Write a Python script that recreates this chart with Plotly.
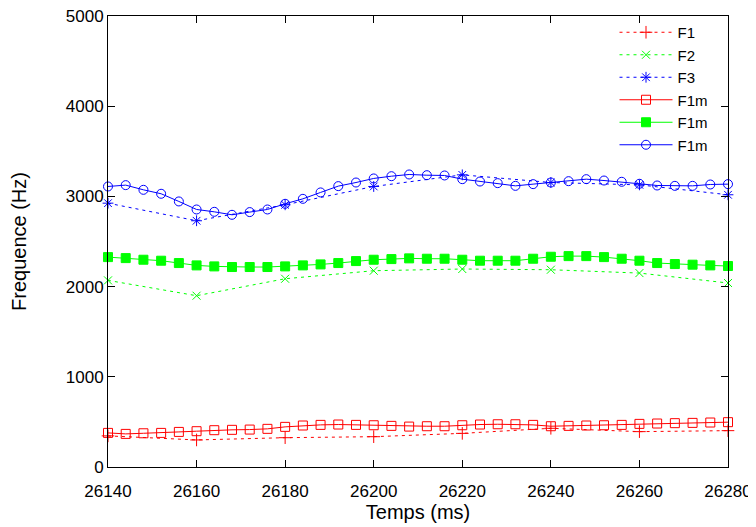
import plotly.graph_objects as go

# formant estimates every 20 ms (dotted series)
t_coarse = [26140, 26160, 26180, 26200, 26220, 26240, 26260, 26280]
f1 = [345, 300, 325, 336, 373, 429, 392, 403]
f2 = [2069, 1899, 2087, 2176, 2195, 2187, 2150, 2040]
f3 = [2925, 2730, 2907, 3110, 3239, 3154, 3128, 3018]

# smoothed tracks every 4 ms (solid series)
t_fine = list(range(26140, 26284, 4))
f1m_red = [378, 367, 374, 378, 389, 397, 408, 412, 415, 423, 445, 460, 467, 471, 467, 463,
           456, 448, 452, 452, 463, 471, 474, 474, 467, 452, 456, 460, 463, 467, 478, 482,
           486, 489, 493, 497]
f1m_green = [2327, 2316, 2298, 2287, 2261, 2235, 2224, 2217, 2217, 2217, 2224, 2235, 2246,
             2261, 2283, 2298, 2305, 2313, 2309, 2309, 2298, 2287, 2287, 2287, 2309, 2331,
             2338, 2338, 2327, 2309, 2287, 2261, 2250, 2243, 2235, 2228]
f1m_blue = [3110, 3125, 3073, 3029, 2944, 2855, 2829, 2796, 2826, 2855, 2918, 2973, 3044,
            3114, 3154, 3199, 3224, 3243, 3235, 3232, 3191, 3165, 3147, 3117, 3136, 3154,
            3169, 3191, 3176, 3162, 3140, 3121, 3117, 3117, 3132, 3136]

RED = "#ff0000"
GREEN = "#00ff00"
BLUE = "#0000ff"
FONT = "Liberation Sans, Arial, sans-serif"

fig = go.Figure()

dotted = [
    ("F1", f1, RED, "cross-thin-open", 9),
    ("F2", f2, GREEN, "x-thin-open", 8),
    ("F3", f3, BLUE, "asterisk-open", 9),
]
for name, vals, color, symbol, size in dotted:
    fig.add_trace(go.Scatter(
        x=t_coarse, y=vals, name=name, mode="lines+markers",
        line=dict(color=color, width=1, dash="3px,4px"),
        marker=dict(symbol=symbol, size=size, color=color, line=dict(color=color, width=1)),
        cliponaxis=False,
    ))

solid = [
    (f1m_red, RED, "square-open", 9),
    (f1m_green, GREEN, "square", 9),
    (f1m_blue, BLUE, "circle-open", 9),
]
for vals, color, symbol, size in solid:
    fig.add_trace(go.Scatter(
        x=t_fine, y=vals, name="F1m", mode="lines+markers",
        line=dict(color=color, width=1),
        marker=dict(symbol=symbol, size=size, color=color, line=dict(color=color, width=1)),
        cliponaxis=False,
    ))

axis_style = dict(
    showline=True, linecolor="black", linewidth=1, mirror="allticks",
    ticks="inside", ticklen=7, tickcolor="black", showgrid=False, zeroline=False,
    tickformat="d", ticklabeloverflow="allow",
    tickfont=dict(family=FONT, size=17, color="black"),
)

# page body adds an 8px offset, so margins are shifted to land the frame in place
fig.update_layout(
    width=756, height=527,
    margin=dict(l=100, r=36, t=8, b=68, autoexpand=False),
    paper_bgcolor="white", plot_bgcolor="white",
    font=dict(family=FONT, size=17, color="black"),
    xaxis=dict(range=[26140, 26280], dtick=20, tick0=26140, ticklabelstandoff=9,
               title=dict(text="Temps (ms)", standoff=3), **axis_style),
    yaxis=dict(range=[0, 5000], dtick=1000,
               title=dict(text="Frequence (Hz)", standoff=36), **axis_style),
    legend=dict(x=0.975, y=1.0, xanchor="right", yanchor="top",
                bgcolor="rgba(0,0,0,0)", itemwidth=53,
                font=dict(family=FONT, size=15), tracegroupgap=0),
    showlegend=True,
)

fig.write_html("out.html")
